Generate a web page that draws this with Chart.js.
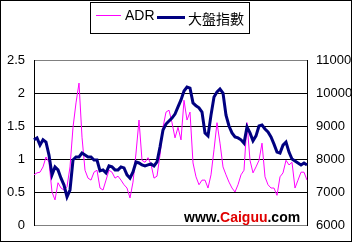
<!DOCTYPE html>
<html>
<head>
<meta charset="utf-8">
<script src="https://cdn.jsdelivr.net/npm/chart.js@4.4.0/dist/chart.umd.min.js"></script>
<style>
    body { margin: 0; background: #fff; }
    #wrap { width: 352px; height: 242px; }
</style>
</head>
<body>
<div id="wrap"><canvas id="adrChart" width="352" height="242"></canvas></div>
<script>
// ADR (left axis)
const adrValues = [
    0.76, 0.79, 0.80, 0.88, 1.03, 0.95, 0.50, 0.38, 0.64, 0.56,
    0.53, 0.58, 0.88, 1.48, 1.85, 2.15, 1.33, 0.83, 0.71, 0.68,
    0.80, 0.83, 0.56, 0.53, 0.68, 0.83, 0.80, 0.71, 0.74, 0.68,
    0.61, 0.56, 0.41, 0.65, 1.09, 1.59, 0.98, 0.95, 1.02, 0.92,
    0.71, 0.74, 1.06, 1.48, 1.71, 1.74, 1.55, 1.32, 1.48, 1.29,
    1.89, 1.59, 1.71, 0.94, 0.73, 0.61, 0.68, 0.68, 0.56, 0.76,
    1.14, 1.55, 1.24, 0.88, 0.76, 0.65, 0.56, 0.50, 0.61, 0.76,
    0.83, 1.55, 0.98, 0.79, 0.88, 0.98, 1.24, 0.73, 0.61, 0.56,
    0.56, 0.45, 0.73, 0.79, 0.98, 0.91, 0.95, 0.56, 0.68, 0.80,
    0.80, 0.68
];

// 大盤指數 (right axis)
const indexValues = [
    8580, 8640, 8420, 8580, 8510, 8120, 7520, 7760, 7670, 7420,
    7210, 6850, 7060, 7970, 8060, 8060, 8180, 8120, 8060, 8060,
    7970, 7970, 7640, 7670, 7580, 7790, 7760, 7670, 7670, 7760,
    7730, 7520, 7420, 7610, 7910, 7880, 7820, 7790, 7820, 7850,
    7790, 7910, 8360, 8880, 9060, 9150, 9240, 9360, 9580, 9790,
    10060, 10180, 10150, 9700, 9610, 9550, 9420, 8790, 8700, 9330,
    9880, 10030, 10120, 10000, 9330, 9000, 8790, 8670, 8640, 8580,
    8480, 8970, 8790, 8550, 8700, 9000, 9030, 8910, 8820, 8670,
    8450, 8210, 8180, 8420, 8510, 8210, 8000, 7940, 7880, 7820,
    7880, 7820
];

const days = adrValues.map((_, i) => i + 1);
const seriesNames = ['ADR', '大盤指數'];
const watermark = ['www.', 'Caiguu', '.com'];

const frame = {
    id: 'frame',
    beforeDraw(chart) {
        const ctx = chart.ctx;
        ctx.save();
        ctx.fillStyle = '#fff';
        ctx.fillRect(0, 0, chart.width, chart.height);
        ctx.restore();
    },
    afterDatasetsDraw(chart) {
        const ctx = chart.ctx;
        ctx.save();
        // watermark
        ctx.font = 'bold 14px "Liberation Sans", Arial, sans-serif';
        ctx.textBaseline = 'alphabetic';
        let x = 184;
        const colors = ['#000', '#e00000', '#000'];
        watermark.forEach((t, i) => {
            ctx.fillStyle = colors[i];
            ctx.fillText(t, x, 222);
            x += ctx.measureText(t).width;
        });
        ctx.restore();
    },
    afterDraw(chart) {
        const ctx = chart.ctx;
        ctx.save();
        ctx.strokeStyle = '#000';
        ctx.lineWidth = 1;
        ctx.strokeRect(0.5, 0.5, chart.width - 1, chart.height - 1);

        // legend
        ctx.strokeRect(90.5, 2.5, 159, 31);
        ctx.strokeStyle = '#ff00ff';
        ctx.beginPath();
        ctx.moveTo(96, 15.5);
        ctx.lineTo(121, 15.5);
        ctx.stroke();
        ctx.strokeStyle = '#000080';
        ctx.lineWidth = 3;
        ctx.beginPath();
        ctx.moveTo(157, 17.5);
        ctx.lineTo(185, 17.5);
        ctx.stroke();

        ctx.fillStyle = '#000';
        ctx.textBaseline = 'alphabetic';
        ctx.font = '14px "Liberation Sans", Arial, sans-serif';
        ctx.fillText(seriesNames[0], 125, 20);
        ctx.font = '14px "Noto Sans CJK TC", sans-serif';
        ctx.textBaseline = 'middle';
        ctx.fillText(seriesNames[1], 188, 19);
        ctx.restore();
    }
};

function initializeChart() {
    new Chart(document.getElementById('adrChart'), {
        type: 'line',
        data: {
            labels: days,
            datasets: [{
                label: seriesNames[0],
                data: adrValues,
                yAxisID: 'y',
                borderColor: '#ff00ff',
                borderWidth: 1,
                pointRadius: 0,
                tension: 0,
                order: 2
            }, {
                label: seriesNames[1],
                data: indexValues,
                yAxisID: 'y1',
                borderColor: '#000080',
                borderWidth: 3,
                pointRadius: 0,
                tension: 0,
                order: 1
            }]
        },
        options: {
            responsive: false,
            animation: false,
            layout: { padding: { top: 60, bottom: 17, left: 0, right: 0 } },
            plugins: {
                legend: { display: false },
                tooltip: { enabled: false }
            },
            scales: {
                x: { display: false },
                y: {
                    position: 'left',
                    min: 0,
                    max: 2.5,
                    afterFit: s => { s.width = 34; },
                    border: { color: '#000' },
                    grid: {
                        drawTicks: false,
                        color: c => (c.tick.value === 0 || c.tick.value === 2.5) ? '#808080' : '#000'
                    },
                    ticks: {
                        stepSize: 0.5,
                        padding: 9,
                        color: '#000',
                        callback: v => String(v),
                        font: { family: '"Liberation Sans", Arial, sans-serif', size: 13 }
                    }
                },
                y1: {
                    position: 'right',
                    min: 6000,
                    max: 11000,
                    afterFit: s => { s.width = 45; },
                    border: { color: '#000' },
                    grid: { display: false, drawTicks: false },
                    ticks: {
                        stepSize: 1000,
                        padding: 9,
                        color: '#000',
                        callback: v => String(v),
                        font: { family: '"Liberation Sans Narrow", "Liberation Sans", Arial, sans-serif', size: 13 }
                    }
                }
            }
        },
        plugins: [frame]
    });
}

document.addEventListener('DOMContentLoaded', initializeChart);
</script>
</body>
</html>
